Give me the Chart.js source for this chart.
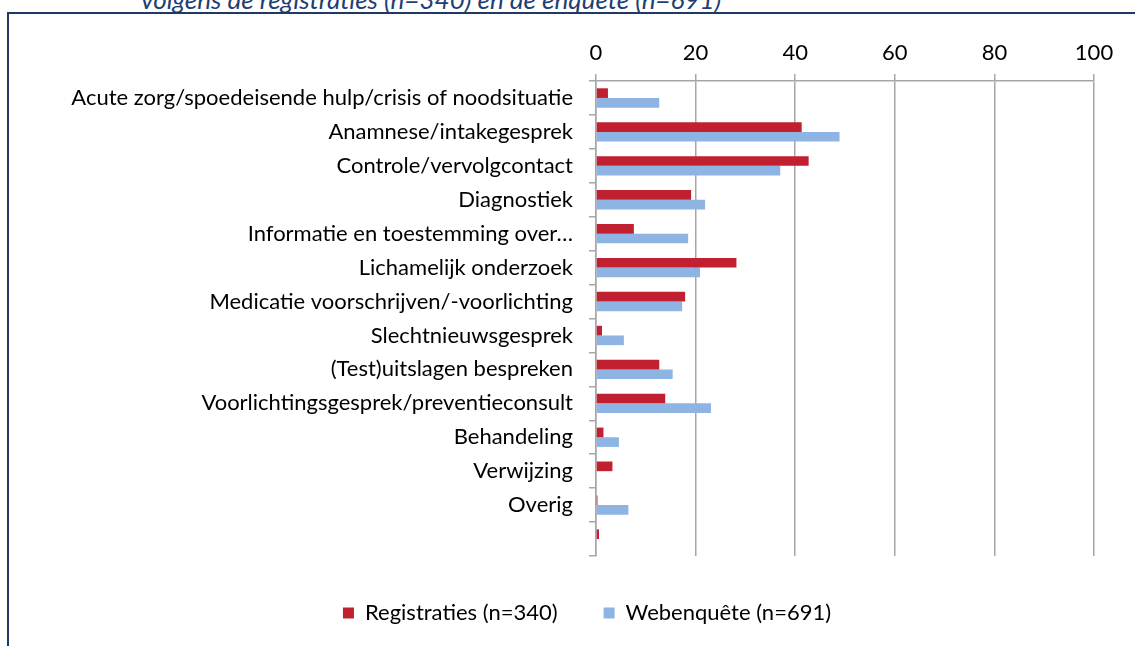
<!DOCTYPE html>
<html>
<head>
<meta charset="utf-8">
<script src="https://cdn.jsdelivr.net/npm/chart.js@4.4.1/dist/chart.umd.min.js"></script>
<style>
    body { margin: 0; width: 1135px; height: 646px; overflow: hidden; background: #fff; position: relative; }
    #title { position: absolute; left: 141px; top: -17px; font-family: Lato, sans-serif; font-style: italic; font-size: 26px; color: #1F3F73; white-space: nowrap; }
    #frame { position: absolute; left: 7px; top: 12px; width: 1140px; height: 650px; border: 2px solid #1F3864; }
    #myChart { position: absolute; left: 0; top: 0; }
</style>
</head>
<body>
<div id="title">volgens de registraties (n=340) en de enquête (n=691)</div>
<div id="frame"></div>
<canvas id="myChart" width="1135" height="646"></canvas>
<script>
const categories = [
    'Acute zorg/spoedeisende hulp/crisis of noodsituatie',
    'Anamnese/intakegesprek',
    'Controle/vervolgcontact',
    'Diagnostiek',
    'Informatie en toestemming over…',
    'Lichamelijk onderzoek',
    'Medicatie voorschrijven/-voorlichting',
    'Slechtnieuwsgesprek',
    '(Test)uitslagen bespreken',
    'Voorlichtingsgesprek/preventieconsult',
    'Behandeling',
    'Verwijzing',
    'Overig',
    ''
];
const registraties = [2.4, 41.3, 42.7, 19.1, 7.6, 28.2, 17.9, 1.2, 12.7, 13.9, 1.5, 3.3, 0.3, 0.6];
const webenquete = [12.7, 48.9, 37.0, 21.9, 18.5, 20.9, 17.3, 5.6, 15.4, 23.1, 4.6, 0, 6.5, 0];
const xTicks = [0, 20, 40, 60, 80, 100];

const gridGray = '#a6a6a6';
const labelFont = { family: 'Lato, sans-serif', size: 22 };

// move the legend to the right so it sits centred under the frame, like the original
const legendShift = {
    id: 'legendShift',
    afterLayout(chart) {
        chart.legend.left += 30;
        chart.legend.right += 30;
    },
};

const ctx = document.getElementById('myChart').getContext('2d');
const myChart = new Chart(ctx, {
    type: 'bar',
    data: {
        labels: categories,
        datasets: [{
            label: 'Registraties (n=340)',
            data: registraties,
            backgroundColor: '#C0202F',
            categoryPercentage: 0.57,
            barPercentage: 1,
        }, {
            label: 'Webenquête (n=691)',
            data: webenquete,
            backgroundColor: '#8EB4E3',
            categoryPercentage: 0.57,
            barPercentage: 1,
        }],
    },
    options: {
        indexAxis: 'y',
        responsive: false,
        animation: false,
        layout: { padding: { left: 20, right: 41, top: 20, bottom: 12 } },
        scales: {
            x: {
                position: 'top',
                min: 0,
                max: 100,
                afterBuildTicks: scale => { scale.ticks = xTicks.map(v => ({ value: v })); },
                afterFit: scale => { scale.height = 61; },
                ticks: { font: labelFont, color: '#000', padding: 8 },
                grid: { color: gridGray, lineWidth: 1.5, tickLength: 7 },
                border: { color: gridGray, width: 1.5 },
            },
            y: {
                afterFit: scale => { scale.width = 576; },
                ticks: { font: labelFont, color: '#000', padding: 16, autoSkip: false },
                grid: { drawOnChartArea: false, color: gridGray, lineWidth: 1.5, tickLength: 7 },
                border: { color: gridGray, width: 1.5 },
            },
        },
        plugins: {
            legend: {
                position: 'bottom',
                labels: { font: labelFont, color: '#000', boxWidth: 11, boxHeight: 11, padding: 46 },
            },
            tooltip: { enabled: false },
        },
    },
    plugins: [legendShift],
});
</script>
</body>
</html>
